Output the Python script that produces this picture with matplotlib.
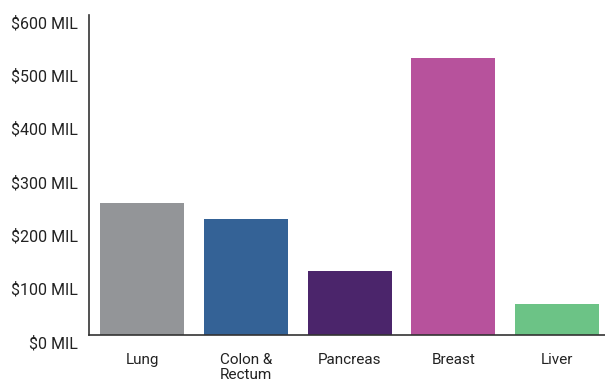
import matplotlib
matplotlib.use("Agg")
import matplotlib.pyplot as plt
import matplotlib.transforms as mtransforms

categories = ["Lung", "Colon &\nRectum", "Pancreas", "Breast", "Liver"]
funding_mil = [247, 217, 120, 519, 58]
colors = ["#939598", "#346296", "#4b256b", "#b7529c", "#6cc386"]
y_ticks = [0, 100, 200, 300, 400, 500, 600]
y_tick_labels = [f"${v} MIL" for v in y_ticks]

plt.rcParams["font.family"] = ["Roboto", "DejaVu Sans"]

fig = plt.figure(figsize=(6.05, 3.85), dpi=100)
ax = fig.add_axes([89 / 605, 50 / 385, 1 - 89 / 605, 320 / 385])

x = list(range(len(categories)))
ax.bar(x, funding_mil, width=0.81, color=colors, zorder=2)

ax.set_xlim(-0.51, 4.46)
ax.set_ylim(0, 600)
ax.set_yticks(y_ticks)
ax.set_yticklabels(y_tick_labels)
ax.set_xticks(x)
ax.set_xticklabels(categories, linespacing=1.05)

ax.tick_params(axis="both", length=0, labelsize=11.5, colors="#222222")
ax.tick_params(axis="y", pad=8)
ax.tick_params(axis="x", labelsize=11, pad=13)

# nudge y labels slightly downward
offset = mtransforms.ScaledTranslation(0, -7 / 100, fig.dpi_scale_trans)
for lbl in ax.get_yticklabels():
    lbl.set_transform(lbl.get_transform() + offset)

for side in ("top", "right"):
    ax.spines[side].set_visible(False)
for side in ("left", "bottom"):
    ax.spines[side].set_color("#333333")
    ax.spines[side].set_linewidth(1.2)

fig.savefig("out.png", dpi=100)
